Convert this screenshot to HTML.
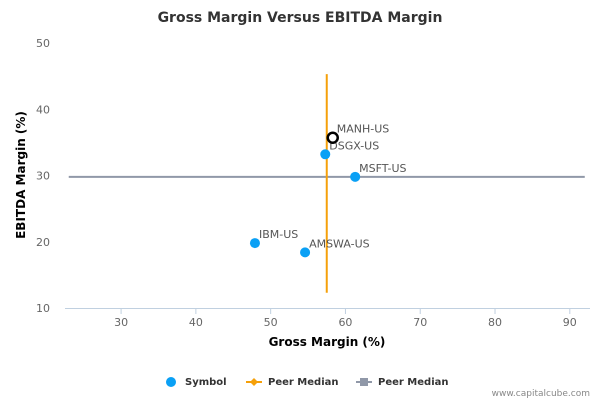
<!DOCTYPE html>
<html><head><meta charset="utf-8"><style>
body{margin:0;background:#fff;font-family:"DejaVu Sans","Liberation Sans",sans-serif}
text{font-family:"DejaVu Sans","Liberation Sans",sans-serif}
</style></head><body>
<svg id="chart" width="600" height="400">
<text x="300" y="22" text-anchor="middle" font-size="14" font-weight="bold" fill="#333">Gross Margin Versus EBITDA Margin</text>
<g id="axes"></g>
<g id="plot"></g>
<text x="327" y="346" text-anchor="middle" font-size="12" font-weight="bold" fill="#000">Gross Margin (%)</text>
<text x="25" y="175" text-anchor="middle" font-size="12" font-weight="bold" fill="#000" transform="rotate(-90 25 175)">EBITDA Margin (%)</text>
<g font-size="10" font-weight="bold" fill="#333">
<g><circle cx="171" cy="382" r="5" fill="#0aa0f5"/><text x="185" y="385">Symbol</text></g>
<g><line x1="246" y1="382" x2="262" y2="382" stroke="#f5a00a" stroke-width="2"/><path d="M254 378 L258 382 L254 386 L250 382Z" fill="#f5a00a"/><text x="268" y="385">Peer Median</text></g>
<g><line x1="356" y1="382" x2="372" y2="382" stroke="#9098a8" stroke-width="2"/><rect x="360" y="378" width="8" height="8" fill="#9098a8"/><text x="378" y="385">Peer Median</text></g>
</g>
<text x="590" y="396" text-anchor="end" font-size="9" fill="#888">www.capitalcube.com</text>
</svg>
<script>
const names=["IBM-US","AMSWA-US","DSGX-US","MANH-US","MSFT-US"];
const grossMargin=[47.9,54.6,57.3,58.3,61.3];
const ebitdaMargin=[19.8,18.4,33.2,35.7,29.8];
const xTicks=[30,40,50,60,70,80,90];
const yTicks=[10,20,30,40,50];
const medianGross=[57.5];
const medianEbitda=[29.8];
const vRange=[12.3,45.3];
const hRange=[23,92];
const X0=65,X1=590,XMIN=22.5,XMAX=92.7,Y0=308,Y1=43,YMIN=10,YMAX=50;
const sx=v=>X0+(v-XMIN)/(XMAX-XMIN)*(X1-X0);
const sy=v=>Y0-(v-YMIN)/(YMAX-YMIN)*(Y0-Y1);
const NS="http://www.w3.org/2000/svg";
const axes=document.getElementById('axes'),plot=document.getElementById('plot');
function mk(p,t,a){const e=document.createElementNS(NS,t);for(const k in a)e.setAttribute(k,a[k]);p.appendChild(e);return e;}
let l=mk(axes,'line',{x1:X0,y1:Y0+0.5,x2:X1,y2:Y0+0.5,stroke:'#c0d0e0'});


xTicks.forEach(v=>{const t=mk(axes,'line',{x1:sx(v),x2:sx(v),y1:Y0,y2:Y0+6,stroke:'#c0d0e0'});


const tx=mk(axes,'text',{x:sx(v),y:Y0+18,'text-anchor':'middle','font-size':11,fill:'#666'});tx.textContent=v;

});
yTicks.forEach(v=>{const tx=mk(axes,'text',{x:50,y:sy(v)+4,'text-anchor':'end','font-size':11,fill:'#666'});tx.textContent=v;

});
const h=mk(plot,'line',{x1:sx(hRange[0]),x2:sx(hRange[1]),y1:sy(medianEbitda[0]),y2:sy(medianEbitda[0]),stroke:'#9098a8','stroke-width':2});


const v=mk(plot,'line',{x1:sx(medianGross[0]),x2:sx(medianGross[0]),y1:sy(vRange[0]),y2:sy(vRange[1]),stroke:'#f5a00a','stroke-width':2});


names.forEach((n,i)=>{const hollow=n==="MANH-US";
const c=mk(plot,'circle',{cx:sx(grossMargin[i]),cy:sy(ebitdaMargin[i]),r:hollow?5:5,fill:hollow?'#fff':'#0aa0f5',stroke:hollow?'#000':'none','stroke-width':hollow?2.5:0});


const t=mk(plot,'text',{x:sx(grossMargin[i])+4,y:sy(ebitdaMargin[i])-5,'font-size':11,fill:'#555'});t.textContent=n;

});
</script>
</body></html>
